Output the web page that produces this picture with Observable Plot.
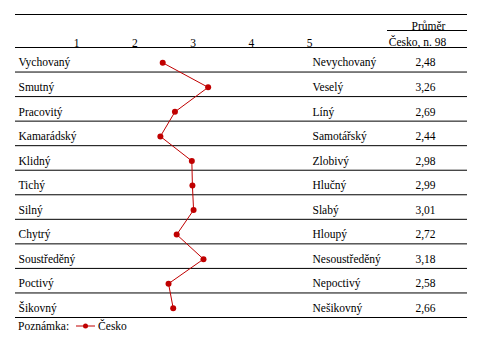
<!DOCTYPE html>
<html><head><meta charset="utf-8">
<script src="https://cdn.jsdelivr.net/npm/d3@7"></script>
<script src="https://cdn.jsdelivr.net/npm/@observablehq/plot@0.6"></script>
<style>
body{margin:0;background:#fff;font-family:'Liberation Serif','DejaVu Serif',serif;}
#wrap{position:relative;width:481px;height:340px;}
#legend{position:absolute;left:18px;top:317px;height:18px;line-height:18px;font-size:11.5px;display:flex;align-items:center;color:#000;font-family:'Liberation Serif','DejaVu Serif',serif;}
svg text{font-family:'Liberation Serif','DejaVu Serif',serif !important;}
</style></head>
<body><div id="wrap"><div id="chart"></div><div id="legend"></div></div>
<script>
const leftLabels = ["Vychovaný","Smutný","Pracovitý","Kamarádský","Klidný","Tichý","Silný","Chytrý","Soustředěný","Poctivý","Šikovný"];
const rightLabels = ["Nevychovaný","Veselý","Líný","Samotářský","Zlobivý","Hlučný","Slabý","Hloupý","Nesoustředěný","Nepoctivý","Nešikovný"];
const values = [2.48,3.26,2.69,2.44,2.98,2.99,3.01,2.72,3.18,2.58,2.66];
const tickValues = [1,2,3,4,5];
const headerTop = "Průměr";
const headerBottom = "Česko, n. 98";
const seriesName = "Česko";
const noteLabel = "Poznámka:";

const RED = "#c00000";
const FS = 11.5;
const FF = "'Liberation Serif', 'DejaVu Serif', serif";
const rows = leftLabels.map((l,i)=>({i, row:i+0.5, left:l, right:rightLabels[i], v:values[i], vs:values[i].toFixed(2).replace(".",",")}));

const plot = Plot.plot({
  width:481, height:318,
  marginLeft:15, marginRight:14, marginTop:47, marginBottom:1,
  style:{fontFamily:FF, fontSize:FS+"px", color:"#000", background:"#fff"},
  x:{domain:[1,5], range:[76,309]},
  y:{domain:[0,11], range:[47,317]},
  marks:[
    Plot.axisX({anchor:"top", ticks:tickValues, tickSize:0, tickPadding:1, tickFormat:d=>String(d), fontSize:FS, fontFamily:FF, label:null}),
    Plot.axisY({ticks:[], label:null, tickSize:0}),
    Plot.ruleY(d3.range(0,12), {stroke:"#000", strokeWidth:1}),
    Plot.text(rows, {y:"row", text:"left", frameAnchor:"left", textAnchor:"start", dx:3, dy:3, fontSize:FS, fontFamily:FF, fill:"#000"}),
    Plot.text(rows, {y:"row", text:"right", frameAnchor:"right", textAnchor:"start", dx:-155, dy:3, fontSize:FS, fontFamily:FF, fill:"#000"}),
    Plot.text(rows, {y:"row", text:"vs", frameAnchor:"right", textAnchor:"middle", dx:-42, dy:3, fontSize:FS, fontFamily:FF, fill:"#000"}),
    Plot.text([headerTop], {text:d=>d, frameAnchor:"top-right", lineAnchor:"middle", textAnchor:"middle", dx:-39, dy:-21.5, fontSize:FS, fontFamily:FF, fill:"#000"}),
    Plot.text([headerBottom], {text:d=>d, frameAnchor:"top-right", lineAnchor:"middle", textAnchor:"middle", dx:-50, dy:-5.5, fontSize:FS, fontFamily:FF, fill:"#000"}),
    Plot.line(rows, {x:"v", y:"row", dy:3, stroke:RED, strokeWidth:1}),
    Plot.dot(rows, {x:"v", y:"row", dy:3, r:3, fill:RED, stroke:"none"})
  ]
});
const svg = d3.select(plot);
svg.append("line").attr("x1",15).attr("x2",467).attr("y1",14.5).attr("y2",14.5).attr("stroke","#000");
svg.append("line").attr("x1",387).attr("x2",467).attr("y1",30.5).attr("y2",30.5).attr("stroke","#000");
document.getElementById("chart").appendChild(plot);

const lg = document.getElementById("legend");
lg.innerHTML = `<span>${noteLabel}</span><svg width="19" height="10" style="margin-left:7px;margin-right:3px"><line x1="0" x2="19" y1="5" y2="5" stroke="${RED}" stroke-width="1"/><circle cx="9.5" cy="5" r="2.5" fill="${RED}"/></svg><span>${seriesName}</span>`;
</script></body></html>
